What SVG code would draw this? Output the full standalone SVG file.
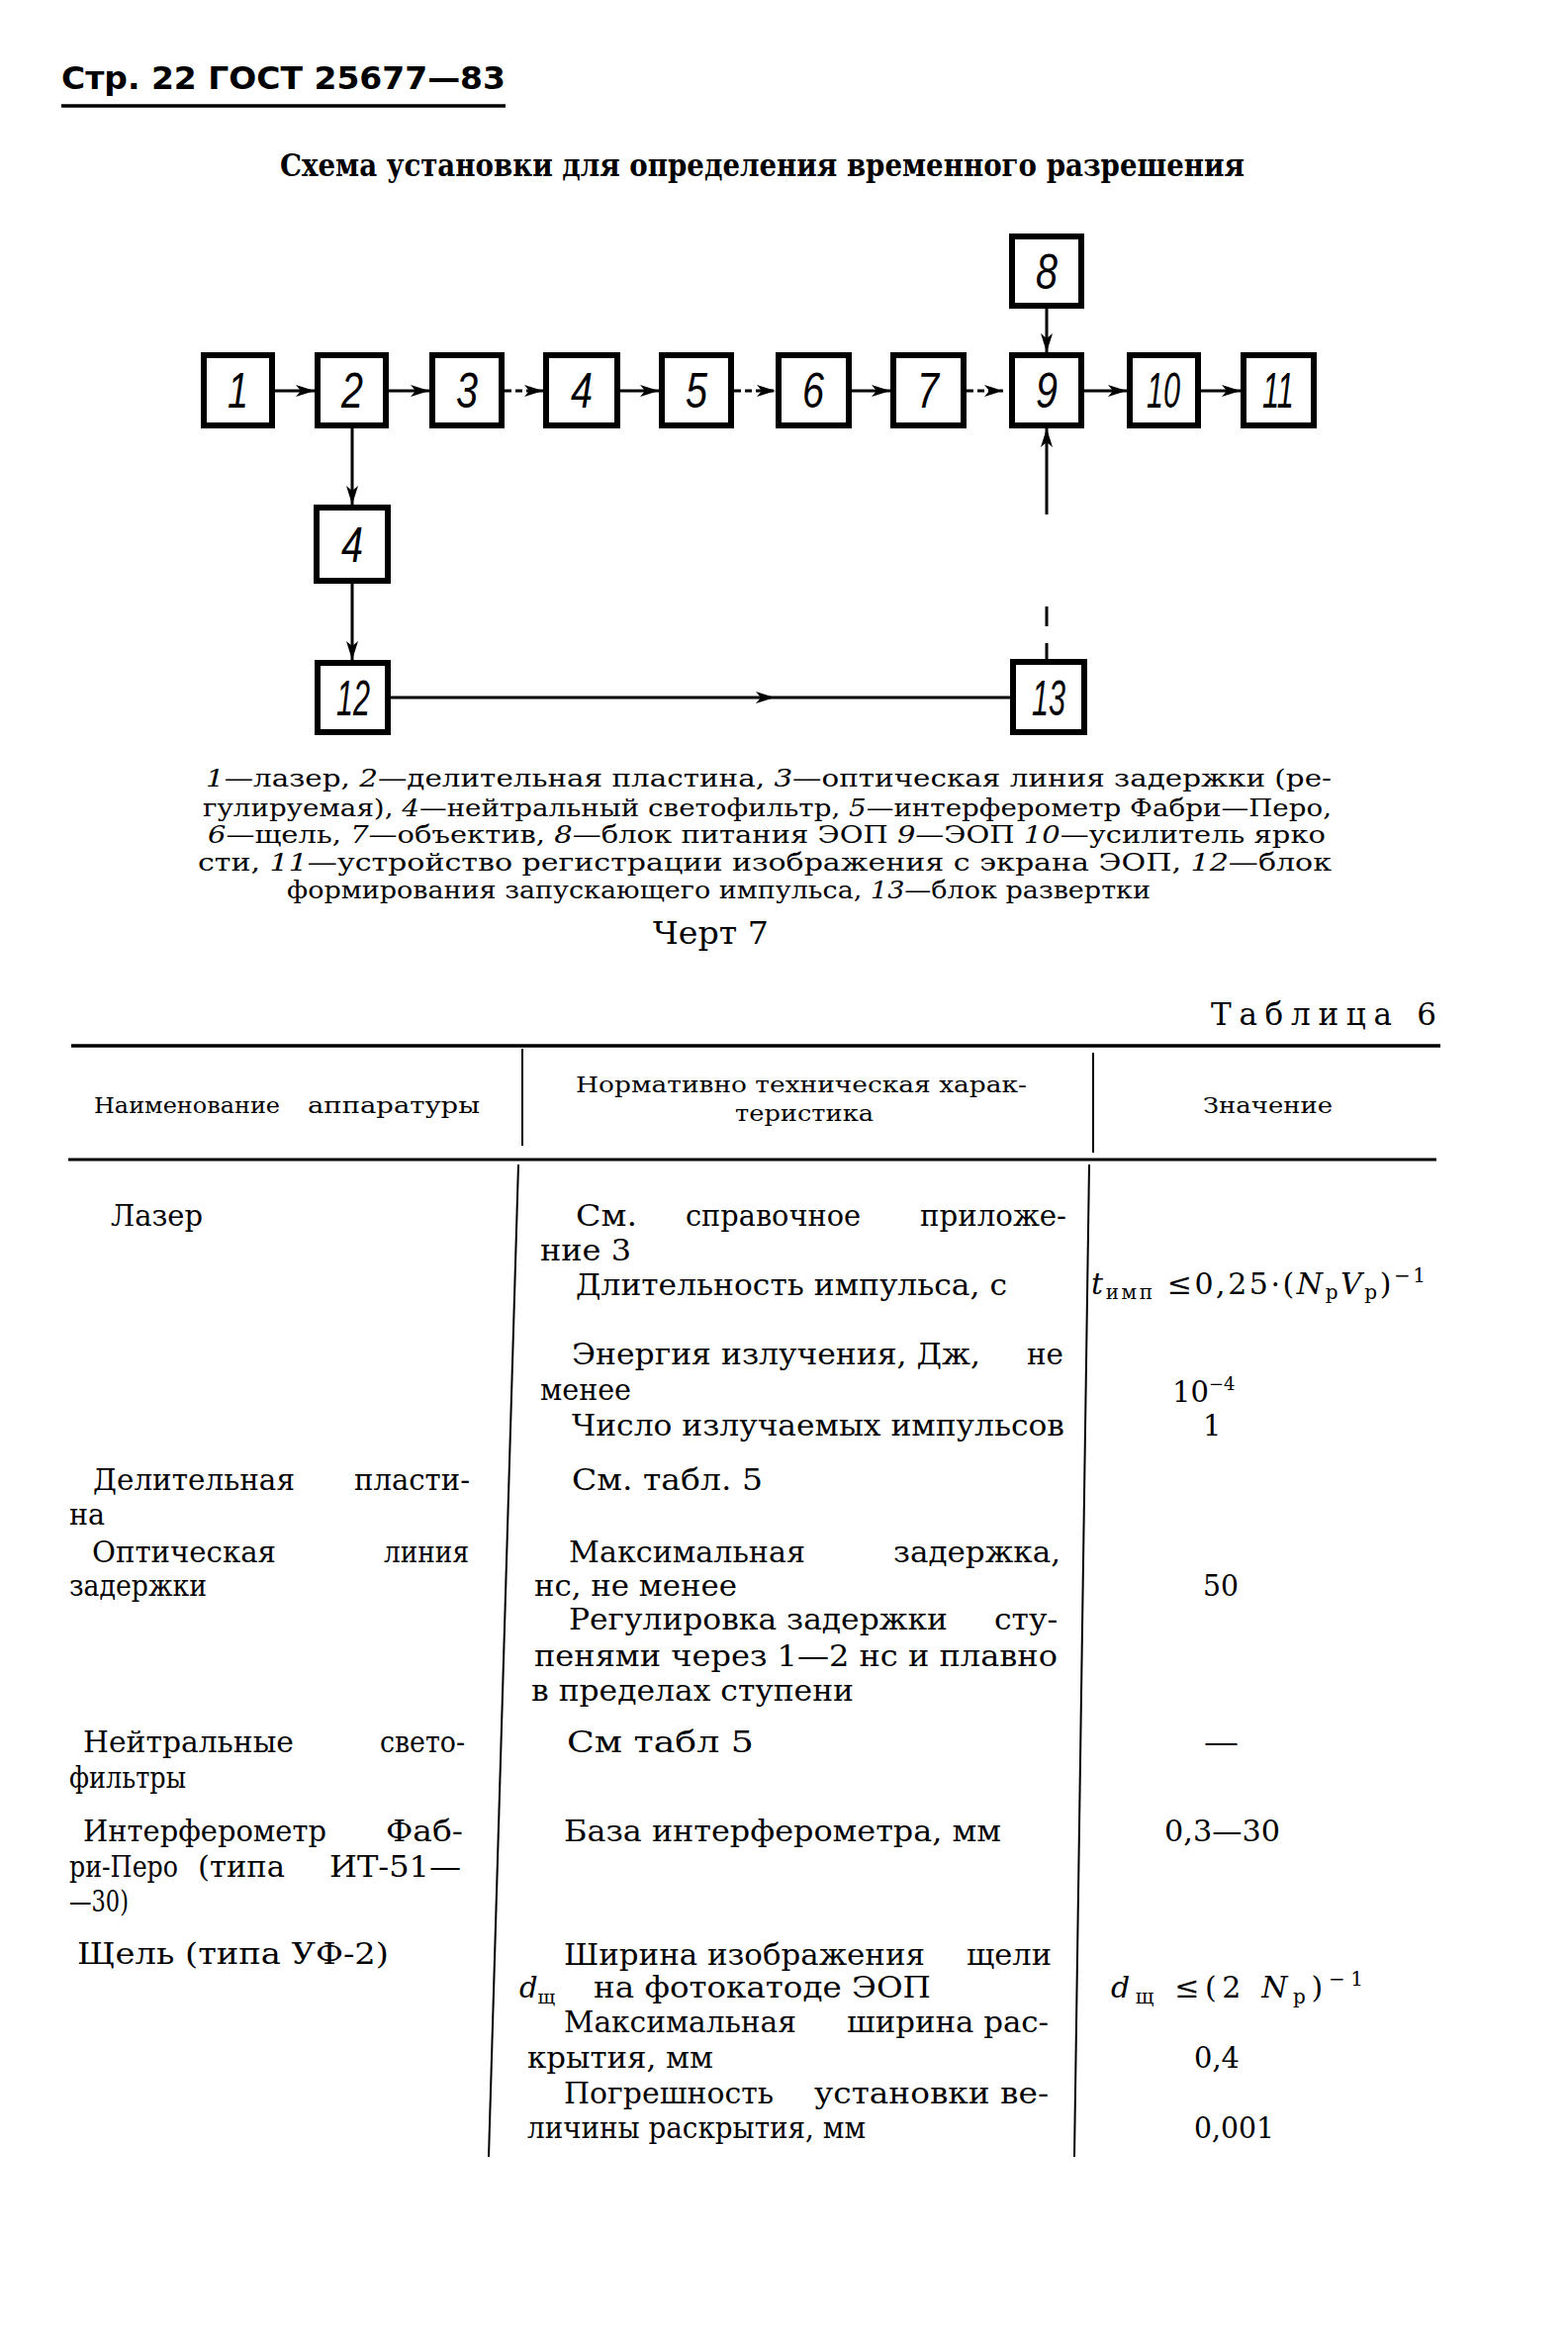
<svg xmlns="http://www.w3.org/2000/svg" width="1585" height="2354" viewBox="0 0 1585 2354">
<style>
.box{fill:#fff;stroke:#000;stroke-width:6}
.num{font-family:"Liberation Sans","DejaVu Sans",sans-serif;font-style:italic;font-size:50px;fill:#000}
.c{stroke:#000;stroke-width:3;fill:none}
.d{stroke-dasharray:7 4}
.t{font-family:"DejaVu Serif","Liberation Serif",serif;font-size:29px;fill:#000}
.h{font-family:"DejaVu Serif","Liberation Serif",serif;font-size:22px;fill:#000}
.cap{font-family:"DejaVu Serif","Liberation Serif",serif;font-size:25px;fill:#000}
.rule{stroke:#000;fill:none}
.i{font-style:italic}
</style>
<defs>
<marker id="ah" markerUnits="userSpaceOnUse" markerWidth="22" markerHeight="14" refX="19" refY="7" orient="auto">
<path d="M0,1 L19,7 L0,13 L5,7 z" fill="#000"/>
</marker>
</defs>
<rect width="1585" height="2354" fill="#fff"/>

<g id="page-header">
<text x="62" y="90" font-family="'DejaVu Sans','Liberation Sans',sans-serif" font-weight="bold" font-size="32" textLength="449" lengthAdjust="spacingAndGlyphs">Стр. 22 ГОСТ 25677—83</text>
<line class="rule" x1="62" y1="107" x2="511" y2="107" stroke-width="3.5"/>
<text x="283" y="178" font-family="'DejaVu Serif','Liberation Serif',serif" font-weight="bold" font-size="31" textLength="975" lengthAdjust="spacingAndGlyphs">Схема установки для определения временного разрешения</text>
</g>

<g id="connectors">
<line class="c" x1="278" y1="395" x2="318" y2="395" marker-end="url(#ah)"/>
<line class="c" x1="393" y1="395" x2="434" y2="395" marker-end="url(#ah)"/>
<line class="c d" x1="510" y1="395" x2="549" y2="395" marker-end="url(#ah)"/>
<line class="c" x1="627" y1="395" x2="666" y2="395" marker-end="url(#ah)"/>
<line class="c d" x1="742" y1="395" x2="784" y2="395" marker-end="url(#ah)"/>
<line class="c" x1="861" y1="395" x2="900" y2="395" marker-end="url(#ah)"/>
<line class="c d" x1="977" y1="395" x2="1014" y2="395" marker-end="url(#ah)"/>
<line class="c" x1="1096" y1="395" x2="1139" y2="395" marker-end="url(#ah)"/>
<line class="c" x1="1214" y1="395" x2="1254" y2="395" stroke-width="4" marker-end="url(#ah)"/>
<line class="c" x1="1058" y1="312" x2="1058" y2="356" marker-end="url(#ah)"/>
<line class="c" x1="356" y1="433" x2="356" y2="510" marker-end="url(#ah)"/>
<line class="c" x1="356" y1="590" x2="356" y2="667" marker-end="url(#ah)"/>
<polyline class="c" points="395,705 783,705 1021,705" marker-mid="url(#ah)"/>
<line class="c" x1="1058" y1="520" x2="1058" y2="433" marker-end="url(#ah)"/>
<line class="c" x1="1058" y1="613" x2="1058" y2="633"/>
<line class="c" x1="1058" y1="650" x2="1058" y2="667"/>
</g>

<g id="n1"><rect class="box" x="206" y="359" width="69" height="71"/><text class="num" x="230" y="412" textLength="21" lengthAdjust="spacingAndGlyphs">1</text></g>
<g id="n2"><rect class="box" x="321" y="359" width="69" height="71"/><text class="num" x="345" y="412" textLength="22" lengthAdjust="spacingAndGlyphs">2</text></g>
<g id="n3"><rect class="box" x="437" y="359" width="70" height="71"/><text class="num" x="461" y="412" textLength="22" lengthAdjust="spacingAndGlyphs">3</text></g>
<g id="n4"><rect class="box" x="552" y="359" width="72" height="71"/><text class="num" x="577" y="412" textLength="22" lengthAdjust="spacingAndGlyphs">4</text></g>
<g id="n5"><rect class="box" x="669" y="359" width="70" height="71"/><text class="num" x="693" y="412" textLength="22" lengthAdjust="spacingAndGlyphs">5</text></g>
<g id="n6"><rect class="box" x="787" y="359" width="71" height="71"/><text class="num" x="811" y="412" textLength="22" lengthAdjust="spacingAndGlyphs">6</text></g>
<g id="n7"><rect class="box" x="903" y="359" width="71" height="71"/><text class="num" x="927" y="412" textLength="22" lengthAdjust="spacingAndGlyphs">7</text></g>
<g id="n9"><rect class="box" x="1023" y="359" width="70" height="71"/><text class="num" x="1047" y="412" textLength="22" lengthAdjust="spacingAndGlyphs">9</text></g>
<g id="n10"><rect class="box" x="1142" y="359" width="69" height="71"/><text class="num" x="1159" y="412" textLength="34" lengthAdjust="spacingAndGlyphs">10</text></g>
<g id="n11"><rect class="box" x="1257" y="359" width="71" height="71"/><text class="num" x="1276" y="412" textLength="32" lengthAdjust="spacingAndGlyphs">11</text></g>
<g id="n8"><rect class="box" x="1023" y="239" width="70" height="70"/><text class="num" x="1047" y="292" textLength="22" lengthAdjust="spacingAndGlyphs">8</text></g>
<g id="n4b"><rect class="box" x="320" y="513" width="72" height="74"/><text class="num" x="345" y="568" textLength="22" lengthAdjust="spacingAndGlyphs">4</text></g>
<g id="n12"><rect class="box" x="321" y="670" width="71" height="70"/><text class="num" x="340" y="723" textLength="34" lengthAdjust="spacingAndGlyphs">12</text></g>
<g id="n13"><rect class="box" x="1024" y="669" width="72" height="71"/><text class="num" x="1043" y="723" textLength="34" lengthAdjust="spacingAndGlyphs">13</text></g>

<g id="caption">
<text class="cap" x="208" y="795" textLength="1138" lengthAdjust="spacingAndGlyphs"><tspan class="i">1</tspan>—лазер, <tspan class="i">2</tspan>—делительная пластина, <tspan class="i">3</tspan>—оптическая линия задержки (ре-</text>
<text class="cap" x="205" y="825" textLength="1141" lengthAdjust="spacingAndGlyphs">гулируемая), <tspan class="i">4</tspan>—нейтральный светофильтр, <tspan class="i">5</tspan>—интерферометр Фабри—Перо,</text>
<text class="cap" x="210" y="852" textLength="1130" lengthAdjust="spacingAndGlyphs"><tspan class="i">6</tspan>—щель, <tspan class="i">7</tspan>—объектив, <tspan class="i">8</tspan>—блок питания ЭОП <tspan class="i">9</tspan>—ЭОП <tspan class="i">10</tspan>—усилитель ярко</text>
<text class="cap" x="200" y="880" textLength="1146" lengthAdjust="spacingAndGlyphs">сти, <tspan class="i">11</tspan>—устройство регистрации изображения с экрана ЭОП, <tspan class="i">12</tspan>—блок</text>
<text class="cap" x="290" y="908" textLength="873" lengthAdjust="spacingAndGlyphs">формирования запускающего импульса, <tspan class="i">13</tspan>—блок развертки</text>
<text x="660" y="954" font-family="'DejaVu Serif','Liberation Serif',serif" font-size="31" textLength="117" lengthAdjust="spacingAndGlyphs">Черт 7</text>
</g>

<g id="table">
<text x="1224" y="1036" font-family="'DejaVu Serif','Liberation Serif',serif" font-size="31" textLength="228" lengthAdjust="spacing">Таблица 6</text>
<line class="rule" x1="72" y1="1057" x2="1456" y2="1057" stroke-width="3.5"/>
<line class="rule" x1="69" y1="1172" x2="1452" y2="1172" stroke-width="3"/>
<line class="rule" x1="528" y1="1060" x2="528" y2="1158" stroke-width="2"/>
<line class="rule" x1="1105" y1="1064" x2="1105" y2="1165" stroke-width="2"/>
<line class="rule" x1="524" y1="1177" x2="494" y2="2180" stroke-width="2"/>
<line class="rule" x1="1101" y1="1177" x2="1086" y2="2180" stroke-width="2"/>

<text class="h" y="1125"><tspan x="95" textLength="188" lengthAdjust="spacingAndGlyphs">Наименование</tspan><tspan x="311" textLength="174" lengthAdjust="spacingAndGlyphs">аппаратуры</tspan></text>
<text class="h" x="582" y="1104" textLength="456" lengthAdjust="spacingAndGlyphs">Нормативно техническая харак-</text>
<text class="h" x="743" y="1133" textLength="140" lengthAdjust="spacingAndGlyphs">теристика</text>
<text class="h" x="1216" y="1125" textLength="131" lengthAdjust="spacingAndGlyphs">Значение</text>

<text class="t" x="112" y="1239">Лазер</text>
<text class="t" y="1506"><tspan x="94" textLength="204" lengthAdjust="spacingAndGlyphs">Делительная</tspan><tspan x="358" textLength="117" lengthAdjust="spacingAndGlyphs">пласти-</tspan></text>
<text class="t" x="70" y="1541" textLength="36" lengthAdjust="spacingAndGlyphs">на</text>
<text class="t" y="1579"><tspan x="93" textLength="186" lengthAdjust="spacingAndGlyphs">Оптическая</tspan><tspan x="388" textLength="86" lengthAdjust="spacingAndGlyphs">линия</tspan></text>
<text class="t" x="70" y="1613" textLength="139" lengthAdjust="spacingAndGlyphs">задержки</text>
<text class="t" y="1771"><tspan x="84" textLength="213" lengthAdjust="spacingAndGlyphs">Нейтральные</tspan><tspan x="384" textLength="86" lengthAdjust="spacingAndGlyphs">свето-</tspan></text>
<text class="t" x="70" y="1807" textLength="118" lengthAdjust="spacingAndGlyphs">фильтры</text>
<text class="t" y="1861"><tspan x="84" textLength="246" lengthAdjust="spacingAndGlyphs">Интерферометр</tspan><tspan x="390" textLength="78" lengthAdjust="spacingAndGlyphs">Фаб-</tspan></text>
<text class="t" y="1897"><tspan x="70" textLength="110" lengthAdjust="spacingAndGlyphs">ри-Перо</tspan><tspan x="200" textLength="88" lengthAdjust="spacingAndGlyphs">(типа</tspan><tspan x="333" textLength="133" lengthAdjust="spacingAndGlyphs">ИТ-51—</tspan></text>
<text class="t" x="70" y="1932" textLength="60" lengthAdjust="spacingAndGlyphs">—30)</text>
<text class="t" x="78" y="1985" textLength="315" lengthAdjust="spacingAndGlyphs">Щель (типа УФ-2)</text>

<text class="t" y="1239"><tspan x="582" textLength="62" lengthAdjust="spacingAndGlyphs">См.</tspan><tspan x="693" textLength="177" lengthAdjust="spacingAndGlyphs">справочное</tspan><tspan x="930" textLength="148" lengthAdjust="spacingAndGlyphs">приложе-</tspan></text>
<text class="t" x="546" y="1274" textLength="92" lengthAdjust="spacingAndGlyphs">ние 3</text>
<text class="t" x="582" y="1309" textLength="436" lengthAdjust="spacingAndGlyphs">Длительность импульса, с</text>
<text class="t" y="1379"><tspan x="578" textLength="413" lengthAdjust="spacingAndGlyphs">Энергия излучения, Дж,</tspan><tspan x="1038" textLength="37" lengthAdjust="spacingAndGlyphs">не</tspan></text>
<text class="t" x="546" y="1415" textLength="92" lengthAdjust="spacingAndGlyphs">менее</text>
<text class="t" x="578" y="1451" textLength="498" lengthAdjust="spacingAndGlyphs">Число излучаемых импульсов</text>
<text class="t" x="578" y="1506" textLength="193" lengthAdjust="spacingAndGlyphs">См. табл. 5</text>
<text class="t" y="1579"><tspan x="575" textLength="239" lengthAdjust="spacingAndGlyphs">Максимальная</tspan><tspan x="903" textLength="169" lengthAdjust="spacingAndGlyphs">задержка,</tspan></text>
<text class="t" x="540" y="1613" textLength="205" lengthAdjust="spacingAndGlyphs">нс, не менее</text>
<text class="t" y="1647"><tspan x="575" textLength="383" lengthAdjust="spacingAndGlyphs">Регулировка задержки</tspan><tspan x="1005" textLength="64" lengthAdjust="spacingAndGlyphs">сту-</tspan></text>
<text class="t" x="540" y="1684" textLength="529" lengthAdjust="spacingAndGlyphs">пенями через 1—2 нс и плавно</text>
<text class="t" x="537" y="1719" textLength="326" lengthAdjust="spacingAndGlyphs">в пределах ступени</text>
<text class="t" x="573" y="1771" textLength="189" lengthAdjust="spacingAndGlyphs">См табл 5</text>
<text class="t" x="570" y="1861" textLength="442" lengthAdjust="spacingAndGlyphs">База интерферометра, мм</text>
<text class="t" y="1986"><tspan x="570" textLength="365" lengthAdjust="spacingAndGlyphs">Ширина изображения</tspan><tspan x="977" textLength="86" lengthAdjust="spacingAndGlyphs">щели</tspan></text>
<text class="t" y="2019"><tspan x="525" class="i">d</tspan><tspan font-size="19" dy="6">щ</tspan><tspan x="600" dy="-6" textLength="341" lengthAdjust="spacingAndGlyphs">на фотокатоде ЭОП</tspan></text>
<text class="t" y="2054"><tspan x="570" textLength="235" lengthAdjust="spacingAndGlyphs">Максимальная</tspan><tspan x="856" textLength="204" lengthAdjust="spacingAndGlyphs">ширина рас-</tspan></text>
<text class="t" x="533" y="2090" textLength="188" lengthAdjust="spacingAndGlyphs">крытия, мм</text>
<text class="t" y="2126"><tspan x="570" textLength="212" lengthAdjust="spacingAndGlyphs">Погрешность</tspan><tspan x="823" textLength="237" lengthAdjust="spacingAndGlyphs">установки ве-</tspan></text>
<text class="t" x="533" y="2161" textLength="342" lengthAdjust="spacingAndGlyphs">личины раскрытия, мм</text>

<text x="1103" y="1308" font-family="'DejaVu Serif','Liberation Serif',serif" font-size="30" textLength="338" lengthAdjust="spacing"><tspan class="i">t</tspan><tspan font-size="20" dy="5">имп</tspan><tspan dy="-5"> ≤0,25·(</tspan><tspan class="i">N</tspan><tspan font-size="20" dy="5">p</tspan><tspan class="i" dy="-5">V</tspan><tspan font-size="20" dy="5">p</tspan><tspan dy="-5">)</tspan><tspan font-size="20" dy="-12">−1</tspan></text>
<text class="t" x="1185" y="1417">10<tspan font-size="18" dy="-12">−4</tspan></text>
<text class="t" x="1216" y="1451">1</text>
<text class="t" x="1216" y="1613" textLength="36" lengthAdjust="spacingAndGlyphs">50</text>
<text class="t" x="1217" y="1771" textLength="35" lengthAdjust="spacingAndGlyphs">—</text>
<text class="t" x="1177" y="1861" textLength="117" lengthAdjust="spacingAndGlyphs">0,3—30</text>
<text x="1123" y="2019" font-family="'DejaVu Serif','Liberation Serif',serif" font-size="30" textLength="255" lengthAdjust="spacing"><tspan class="i">d</tspan><tspan font-size="20" dy="6">щ</tspan><tspan dy="-6"> ≤(2 </tspan><tspan class="i">N</tspan><tspan font-size="20" dy="6">p</tspan><tspan dy="-6">)</tspan><tspan font-size="20" dy="-12">−1</tspan></text>
<text class="t" x="1207" y="2090" textLength="46" lengthAdjust="spacingAndGlyphs">0,4</text>
<text class="t" x="1207" y="2161" textLength="81" lengthAdjust="spacingAndGlyphs">0,001</text>
</g>
</svg>
